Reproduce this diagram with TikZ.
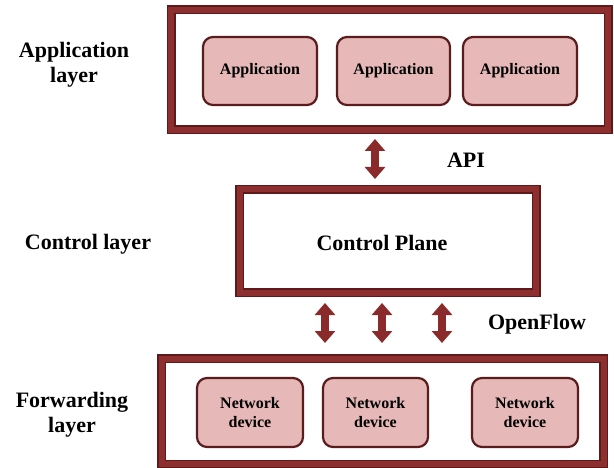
\documentclass[tikz,border=0pt]{standalone}
\usepackage{fontspec}
\setmainfont{Liberation Serif}[
  UprightFont={Liberation Serif},
  BoldFont={Liberation Serif Bold}]
\usetikzlibrary{arrows.meta}

\definecolor{frameDark}{HTML}{5E1A1A}
\definecolor{frameRed}{HTML}{8E2F2F}
\definecolor{boxFill}{HTML}{E6B8B7}
\definecolor{boxLine}{HTML}{5A1C1C}
\definecolor{arrowRed}{HTML}{8A2A2A}

\tikzset{
  layerframe/.style={rectangle, draw=frameDark, line width=9pt, fill=white,
    inner sep=0pt, postaction={draw=frameRed, line width=6pt}},
  unitbox/.style={rectangle, rounded corners=10pt, draw=boxLine, line width=2.2pt,
    fill=boxFill, inner sep=0pt, align=center,
    font=\rmfamily\bfseries\fontsize{16}{19}\selectfont},
  layerlabel/.style={align=center, font=\rmfamily\bfseries\fontsize{22}{25}\selectfont},
  biarrow/.style={draw=arrowRed, line width=8pt,
    {Triangle[width=20pt,length=12pt]}-{Triangle[width=20pt,length=12pt]}},
}

\begin{document}
\begin{tikzpicture}[x=1pt,y=-1pt]
\useasboundingbox (0,0) rectangle (614,468);

% layer frames
\node[layerframe, minimum width=437pt, minimum height=120pt] (appframe) at (389.5,70) {};
\node[layerframe, minimum width=296.5pt, minimum height=103.5pt] (ctrl) at (387.75,241.25) {};
\node[layerframe, minimum width=442pt, minimum height=105.5pt] (fwd) at (382.5,411.25) {};

\node[layerlabel] (ctrltext) at (382,243) {Control Plane};

% applications
\node[unitbox, minimum width=114pt, minimum height=68pt] (app1) at (260,71) {Application};
\node[unitbox, minimum width=113pt, minimum height=68pt] (app2) at (393.5,71) {Application};
\node[unitbox, minimum width=114pt, minimum height=68pt] (app3) at (520,71) {Application};

% network devices
\node[unitbox, minimum width=106pt, minimum height=69pt] (dev1) at (250,412.5) {Network\\device};
\node[unitbox, minimum width=105pt, minimum height=69pt] (dev2) at (375.5,412.5) {Network\\device};
\node[unitbox, minimum width=106pt, minimum height=69pt] (dev3) at (525,412.5) {Network\\device};

% layer names
\node[layerlabel] (lapp) at (74,65) {Application\\layer};
\node[layerlabel] (lctrl) at (88,244) {Control layer};
\node[layerlabel] (lfwd) at (72,415) {Forwarding\\layer};

% interface names
\node[layerlabel] (api) at (466,160) {API};
\node[layerlabel] (of) at (537,324) {OpenFlow};

% arrows between layers
\coordinate (xa) at (375,0);
\coordinate (x1) at (325,0);
\coordinate (x2) at (382,0);
\coordinate (x3) at (442,0);

\draw[biarrow, shorten <=4.5pt, shorten >=6pt] (xa |- appframe.south) -- (xa |- ctrl.north);
\draw[biarrow, shorten <=5.5pt, shorten >=11pt] (x1 |- ctrl.south) -- (x1 |- fwd.north);
\draw[biarrow, shorten <=5.5pt, shorten >=11pt] (x2 |- ctrl.south) -- (x2 |- fwd.north);
\draw[biarrow, shorten <=5.5pt, shorten >=11pt] (x3 |- ctrl.south) -- (x3 |- fwd.north);
\end{tikzpicture}
\end{document}
